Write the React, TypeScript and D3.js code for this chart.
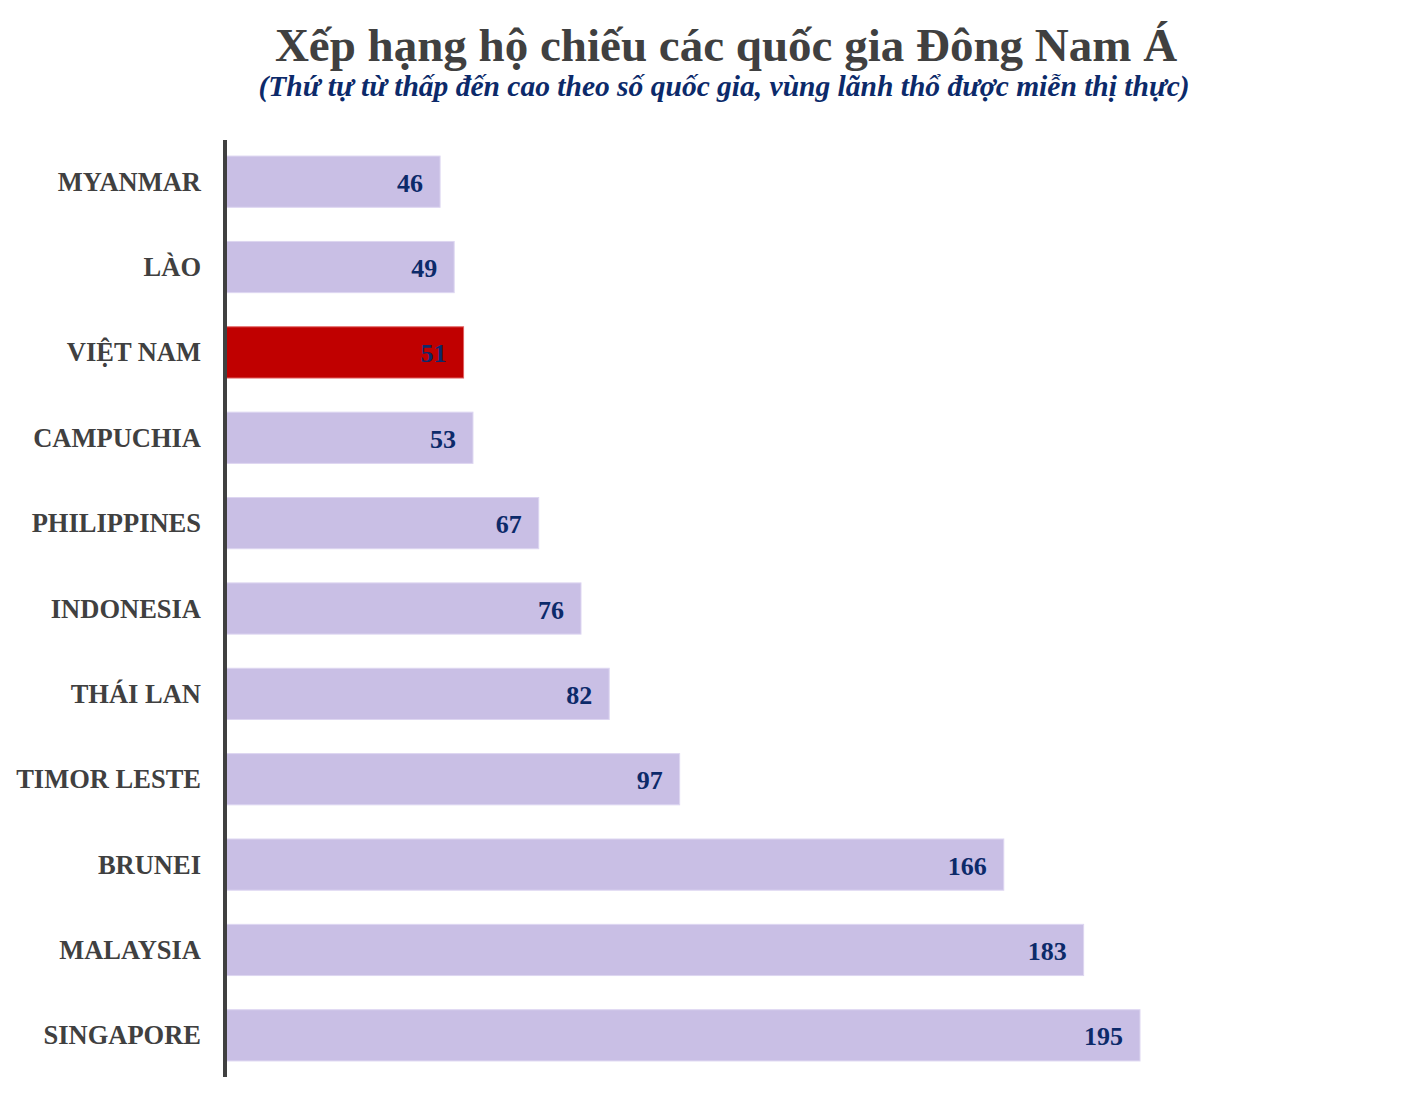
import React from "react";
import * as d3 from "d3";

const countries = ["MYANMAR", "LÀO", "VIỆT NAM", "CAMPUCHIA", "PHILIPPINES", "INDONESIA", "THÁI LAN", "TIMOR LESTE", "BRUNEI", "MALAYSIA", "SINGAPORE"];
const values = [46, 49, 51, 53, 67, 76, 82, 97, 166, 183, 195];
const highlight = "VIỆT NAM";
const title = "Xếp hạng hộ chiếu các quốc gia Đông Nam Á";
const subtitle = "(Thứ tự từ thấp đến cao theo số quốc gia, vùng lãnh thổ được miễn thị thực)";

const W = 1420, H = 1104;
const FONT = "'Liberation Serif', 'Times New Roman', serif";

export default function App() {
  const x = d3.scaleLinear().domain([0, 195]).range([224, 1140]);
  const y = d3.scaleBand<string>().domain(countries).range([139, 1078]).paddingInner(0.4).paddingOuter(0.2);
  return (
    <svg width={W} height={H} style={{ position: "absolute", left: 0, top: 0, background: "#fff" }}>
      <text x={726} y={61} textAnchor="middle" fontFamily={FONT} fontWeight="bold" fontSize={47} fill="#404040">{title}</text>
      <text x={724} y={96} textAnchor="middle" fontFamily={FONT} fontWeight="bold" fontStyle="italic" fontSize={29.5} fill="#0c2a6a">{subtitle}</text>
      {countries.map((c, i) => {
        const v = values[i];
        const y0 = y(c)!;
        const bw = y.bandwidth();
        const hl = c === highlight;
        return (
          <g key={c}>
            <rect x={x(0)} y={y0} width={x(v) - x(0)} height={bw} fill={hl ? "#c00000" : "#c9bfe5"} stroke={hl ? "#e06060" : "#ddd6f1"} strokeWidth={1} />
            <text x={x(v) - 17} y={y0 + bw / 2 + 10} textAnchor="end" fontFamily={FONT} fontWeight="bold" fontSize={26} fill="#0c2a6a">{v}</text>
            <text x={201} y={y0 + bw / 2 + 9} textAnchor="end" fontFamily={FONT} fontWeight="bold" fontSize={26.5} fill="#404040">{c}</text>
          </g>
        );
      })}
      <line x1={225} x2={225} y1={140} y2={1077} stroke="#404040" strokeWidth={4} />
    </svg>
  );
}
